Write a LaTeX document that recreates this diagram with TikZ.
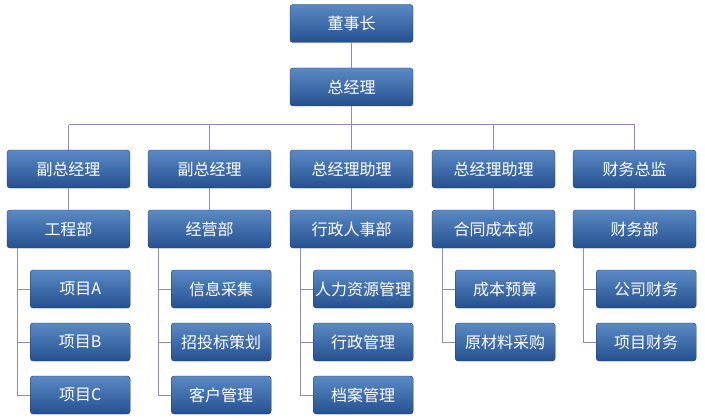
\documentclass[tikz,border=0pt]{standalone}
\usepackage{fontspec}
\setmainfont{Noto Sans CJK SC}
\begin{document}
\begin{tikzpicture}[x=1pt,y=-1pt,
 bx/.style={draw=black!70!blue,rounded corners=3pt,top color=blue!45!cyan!60!black!60!white,bottom color=blue!60!black!80,
   text=white,font=\fontsize{16}{18}\selectfont,minimum height=38pt,inner sep=0pt},
 wide/.style={bx,minimum width=123pt},
 nar/.style={bx,minimum width=100pt},
 ln/.style={draw=blue!30!gray!70,line width=1pt}]
\definecolor{topc}{HTML}{5A8AC6}\definecolor{botc}{HTML}{25508F}
\tikzset{bx/.append style={top color=topc,bottom color=botc,draw=botc!70!black}}
\useasboundingbox (0,0) rectangle (705,420);
\node[wide] (ds) at (351.5,23.5) {董事长};
\node[wide] (zj) at (351.5,87) {总经理};
\coordinate (bus) at (351.5,125);
\draw[ln] (ds) -- (zj); \draw[ln] (zj) -- (bus);
\foreach \i/\x/\a/\b in {1/68.5/副总经理/工程部,2/209.5/副总经理/经营部,3/351.5/总经理助理/行政人事部,4/493.5/总经理助理/合同成本部,5/634.5/财务总监/财务部}{
  \node[wide] (r\i) at (\x,169) {\a};
  \node[wide] (d\i) at (\x,229) {\b};
  \coordinate (b\i) at (\x,125);
  \draw[ln] (b\i) -- (r\i); \draw[ln] (r\i) -- (d\i);
}
\draw[ln] (b1) -- (b5);
\foreach \i/\x/\y/\t in {1/1/289/项目A,1/2/342/项目B,1/3/395/项目C,
  2/1/289/信息采集,2/2/342/招投标策划,2/3/395/客户管理,
  3/1/289/人力资源管理,3/2/342/行政管理,3/3/395/档案管理,
  4/1/289/成本预算,4/2/342/原材料采购,
  5/1/289/公司财务,5/2/342/项目财务}{
  \path (d\i.south west) ++(11,0) coordinate (t\i);
  \path (d\i.east) ++(-50,0) coordinate (cx\i);
  \node[nar] (s\i\x) at (cx\i |- 0,\y) {\t};
  \draw[ln] (t\i) |- (s\i\x.west);
}
\end{tikzpicture}
\end{document}
